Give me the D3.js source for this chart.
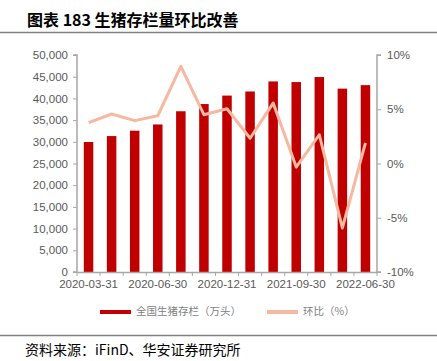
<!DOCTYPE html>
<html>
<head>
<meta charset="utf-8">
<script src="https://cdn.jsdelivr.net/npm/d3@7/dist/d3.min.js"></script>
<style>
	body { margin: 0; background: #fff; }
	svg { display: block; font-family: "Liberation Sans", Arial, sans-serif; }
</style>
</head>
<body>
<div id="chart-area"></div>
<script>
// Data
var dates = ["2020-03-31", "2020-04-30", "2020-05-31", "2020-06-30", "2020-09-30", "2020-11-30",
	"2020-12-31", "2021-03-31", "2021-06-30", "2021-09-30", "2021-12-31", "2022-03-31", "2022-06-30"];
var stock = [29950, 31320, 32560, 33996, 37039, 38700, 40650, 41595, 43911, 43764, 44922, 42253, 43057];
var qoq = [3.76, 4.56, 3.95, 4.4, 8.95, 4.5, 5.05, 2.33, 5.57, -0.33, 2.65, -5.94, 1.9];
var leftTicks = [0, 5000, 10000, 15000, 20000, 25000, 30000, 35000, 40000, 45000, 50000];
var rightTicks = [-10, -5, 0, 5, 10];
var shownDates = ["2020-03-31", "2020-06-30", "2020-12-31", "2021-09-30", "2022-06-30"];

var W = 437, H = 361;
var margin = { left: 77, right: 60, top: 55, bottom: 89 };
var width = W - margin.left - margin.right,
	height = H - margin.top - margin.bottom;

var svg = d3.select("#chart-area")
	.append("svg")
	.attr("width", W)
	.attr("height", H);

// Title + rules
svg.append("text")
	.attr("x", 27)
	.attr("y", 26)
	.attr("font-size", "16px")
	.attr("font-weight", "bold")
	.attr("fill", "#000")
	.attr("font-family", "'Noto Sans CJK SC', sans-serif")
	.text("图表 183 生猪存栏量环比改善");

svg.append("line")
	.attr("x1", 0).attr("x2", W)
	.attr("y1", 32.5).attr("y2", 32.5)
	.attr("stroke", "#808080")
	.attr("stroke-width", 1.5);

svg.append("line")
	.attr("x1", 0).attr("x2", W)
	.attr("y1", 335.5).attr("y2", 335.5)
	.attr("stroke", "#808080")
	.attr("stroke-width", 1.5);

svg.append("text")
	.attr("x", 25)
	.attr("y", 355)
	.attr("font-size", "14px")
	.attr("fill", "#000")
	.attr("font-family", "'Noto Sans CJK SC', sans-serif")
	.text("资料来源：iFinD、华安证券研究所");

var g = svg.append("g")
	.attr("transform", "translate(" + margin.left + ", " + margin.top + ")");

// Scales
var x = d3.scaleBand()
	.domain(dates)
	.range([0, width]);

var y = d3.scaleLinear()
	.domain([0, 50000])
	.range([height, 0]);

var y2 = d3.scaleLinear()
	.domain([-10, 10])
	.range([height, 0]);

// Bars
var barW = 9.5;
g.selectAll("rect.bar")
	.data(stock)
	.enter()
	.append("rect")
	.attr("class", "bar")
	.attr("x", function (d, i) { return x(dates[i]) + x.bandwidth() / 2 - barW / 2; })
	.attr("y", function (d) { return y(d); })
	.attr("width", barW)
	.attr("height", function (d) { return height - y(d); })
	.attr("fill", "#C00000");

// Line
var line = d3.line()
	.x(function (d, i) { return x(dates[i]) + x.bandwidth() / 2; })
	.y(function (d) { return y2(d); });

g.append("path")
	.datum(qoq)
	.attr("d", line)
	.attr("fill", "none")
	.attr("stroke", "#F6B8A0")
	.attr("stroke-width", 3)
	.attr("stroke-linejoin", "round");

// Axes
var axisColor = "#A6A6A6", labelColor = "#595959";

var yAxis = d3.axisLeft(y)
	.tickValues(leftTicks)
	.tickSize(4)
	.tickPadding(5)
	.tickFormat(d3.format(","));

var y2Axis = d3.axisRight(y2)
	.tickValues(rightTicks)
	.tickSize(4)
	.tickPadding(6)
	.tickFormat(function (d) { return d + "%"; });

var xAxis = d3.axisBottom(x)
	.tickSize(0)
	.tickPadding(8)
	.tickFormat(function (d) { return shownDates.indexOf(d) >= 0 ? d : ""; });

var gy = g.append("g").call(yAxis);
var gy2 = g.append("g").attr("transform", "translate(" + width + ",0)").call(y2Axis);
var gx = g.append("g").attr("transform", "translate(0," + height + ")").call(xAxis);

// x tick marks at band edges
g.append("g")
	.selectAll("line")
	.data(dates.concat(["end"]))
	.enter()
	.append("line")
	.attr("x1", function (d, i) { return i * x.step(); })
	.attr("x2", function (d, i) { return i * x.step(); })
	.attr("y1", height)
	.attr("y2", height + 4)
	.attr("stroke", axisColor);

[gy, gy2, gx].forEach(function (a) {
	a.select(".domain").attr("stroke", axisColor).attr("stroke-width", 1.5);
	a.selectAll(".tick line").attr("stroke", axisColor);
	a.selectAll(".tick text")
		.attr("fill", labelColor)
		.attr("font-size", "11.5px")
		.attr("font-family", "'Liberation Sans', Arial, sans-serif");
});
gy.select(".domain").attr("d", "M-4,0H0V" + height + "H-4");
gy2.select(".domain").attr("d", "M4,0H0V" + height + "H4");

// Legend
var legend = svg.append("g")
	.attr("class", "legend");

var items = [
	{ label: "全国生猪存栏（万头）", color: "#C00000", x: 100 },
	{ label: "环比（%）", color: "#F6B8A0", x: 267 }
];

legend.selectAll("rect")
	.data(items)
	.enter()
	.append("rect")
	.attr("x", function (d) { return d.x; })
	.attr("y", 310)
	.attr("width", 31)
	.attr("height", 4)
	.attr("fill", function (d) { return d.color; });

legend.selectAll("text")
	.data(items)
	.enter()
	.append("text")
	.attr("x", function (d) { return d.x + 36; })
	.attr("y", 312)
	.attr("dominant-baseline", "middle")
	.attr("font-size", "10.5px")
	.attr("fill", "#7F7F7F")
	.attr("font-family", "'Noto Sans CJK SC', sans-serif")
	.text(function (d) { return d.label; });
</script>
</body>
</html>
